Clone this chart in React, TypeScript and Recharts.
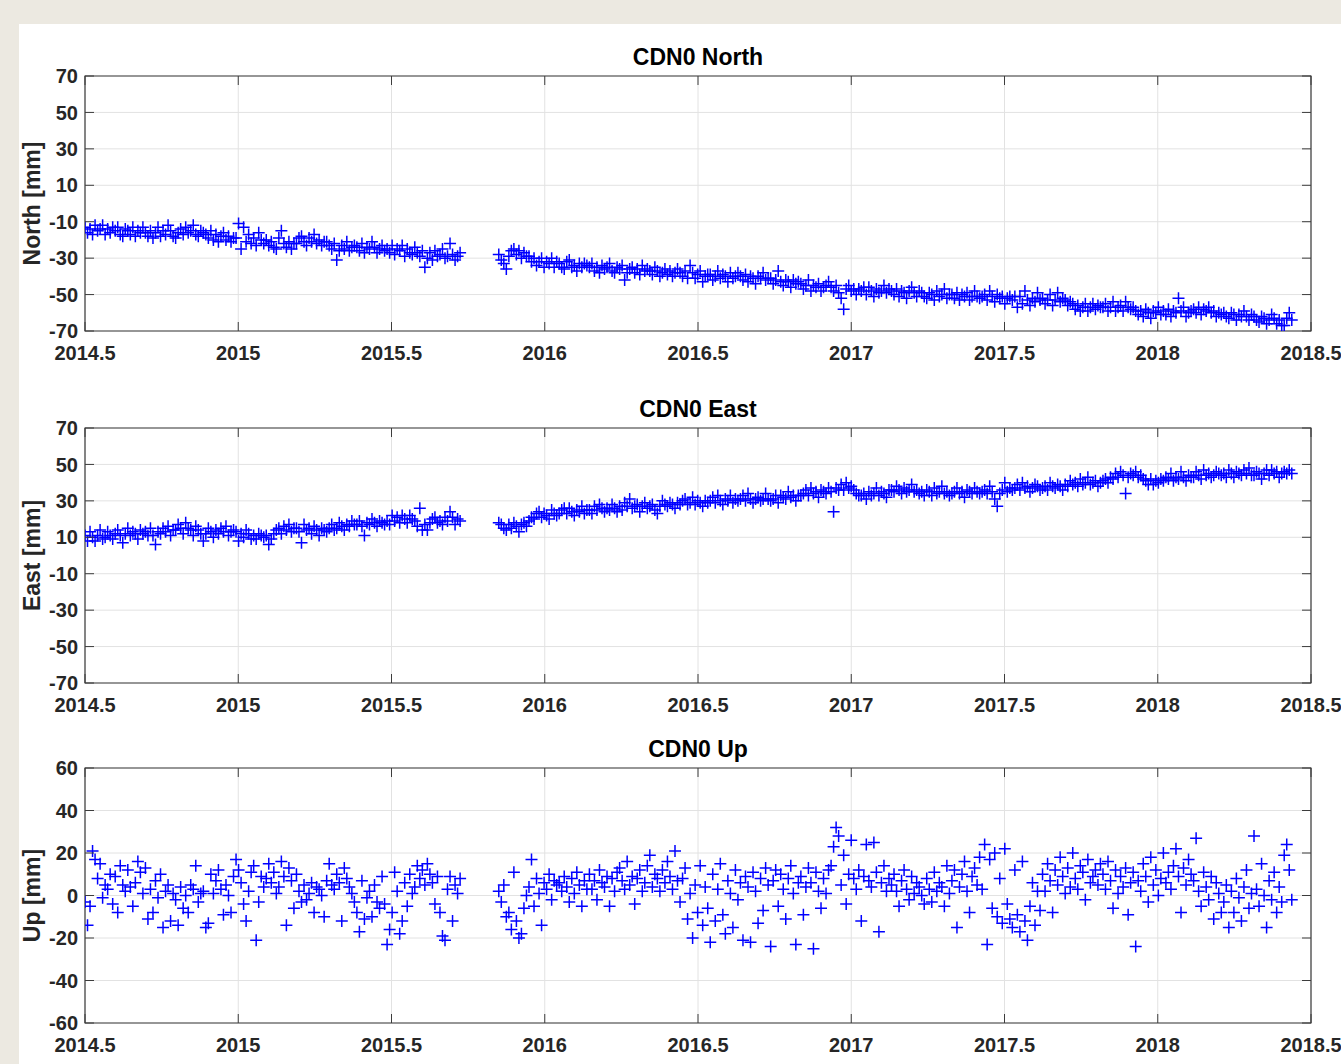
import { ScatterChart, Scatter, XAxis, YAxis, CartesianGrid, ReferenceArea } from 'recharts'

// ─── Style ───────────────────────────────────────────────────────────────
const PAGE_BG = '#ECE9E1'
const FONT = '"Liberation Sans", Arial, Helvetica, sans-serif'
const TEXT = '#262626'
const BOX = '#3c3c3c'
const GRID = '#e2e2e2'
const BLUE = '#0000FF'

// ─── Axes ────────────────────────────────────────────────────────────────
const X_TICKS = [2014.5, 2015, 2015.5, 2016, 2016.5, 2017, 2017.5, 2018, 2018.5]
const NE_TICKS = [70, 50, 30, 10, -10, -30, -50, -70]
const UP_TICKS = [60, 40, 20, 0, -20, -40, -60]

// ─── Data: solutions every 3 days, two segments with a gap late 2015 ─────
const STEP = 3 / 365.25
const SEG1_START = 2014.5
const SEG2_START = 2015.85

const northSeg1 = [
  -13, -16, -14, -17, -12, -15, -14, -12, -17, -14, -16, -13,
  -15, -13, -17, -18, -14, -15, -17, -13, -18, -15, -16, -13,
  -16, -18, -15, -19, -16, -13, -18, -15, -17, -12, -15, -18,
  -19, -16, -14, -17, -13, -16, -15, -12, -17, -18, -15, -16,
  -17, -19, -15, -20, -17, -21, -18, -16, -20, -18, -21, -19,
  -19, -11, -25, -13, -21, -17, -22, -19, -23, -16, -20, -22,
  -20, -23, -21, -24, -25, -19, -15, -22, -24, -21, -25, -22,
  -22, -19, -18, -21, -23, -19, -21, -17, -22, -20, -23, -21,
  -21, -23, -25, -22, -31, -26, -23, -25, -21, -26, -24, -23,
  -24, -26, -22, -27, -24, -25, -21, -24, -27, -25, -23, -26,
  -25, -27, -23, -28, -25, -26, -23, -29, -25, -27, -28, -24,
  -27, -29, -26, -35, -30, -27, -31, -26, -29, -28, -25, -30,
  -29, -22, -28, -31, -29, -27,
]
const northSeg2 = [
  -28, -31, -33, -36, -29, -26, -25, -28, -26, -30, -27, -29,
  -29, -32, -30, -34, -32, -30, -35, -32, -33, -30, -35, -32,
  -33, -35, -36, -32, -31, -35, -34, -37, -33, -35, -33, -34,
  -35, -33, -37, -35, -38, -34, -36, -35, -33, -37, -38, -35,
  -36, -34, -42, -38, -36, -35, -38, -36, -39, -34, -37, -36,
  -37, -39, -35, -37, -40, -38, -36, -39, -37, -40, -38, -36,
  -38, -40, -37, -41, -34, -38, -41, -39, -37, -43, -40, -39,
  -39, -42, -40, -37, -41, -39, -40, -43, -38, -41, -40, -38,
  -40, -42, -39, -43, -40, -41, -44, -40, -41, -38, -42, -41,
  -41, -44, -42, -37, -43, -45, -42, -43, -46, -42, -44, -43,
  -44, -47, -45, -42, -48, -45, -46, -44, -48, -46, -45, -43,
  -46, -48, -45, -49, -52, -58, -47, -45, -48, -47, -50, -47,
  -48, -46, -50, -46, -48, -51, -47, -49, -48, -45, -49, -47,
  -48, -50, -47, -51, -48, -49, -52, -48, -46, -49, -51, -48,
  -49, -51, -52, -49, -50, -53, -48, -51, -50, -47, -52, -50,
  -50, -52, -49, -53, -50, -51, -49, -53, -51, -48, -51, -52,
  -51, -50, -53, -48, -51, -54, -50, -52, -51, -55, -52, -51,
  -53, -51, -57, -51, -55, -48, -53, -56, -52, -54, -49, -53,
  -52, -55, -53, -50, -56, -53, -49, -54, -52, -53, -56, -54,
  -55, -58, -56, -59, -57, -55, -59, -57, -55, -58, -56, -57,
  -57, -55, -59, -57, -54, -59, -57, -56, -59, -54, -57, -58,
  -57, -59, -61, -59, -62, -58, -60, -63, -59, -60, -57, -61,
  -59, -61, -58, -62, -59, -60, -52, -59, -57, -62, -60, -59,
  -58, -60, -57, -61, -58, -59, -57, -60, -59, -62, -60, -61,
  -60, -62, -63, -60, -61, -64, -61, -62, -59, -62, -64, -61,
  -62, -64, -65, -62, -63, -66, -64, -61, -63, -66, -64, -67,
  -67, -63, -60, -64,
]

const eastSeg1 = [
  11, 8, 13, 10, 8, 11, 14, 9, 10, 13, 11, 9,
  12, 14, 11, 7, 12, 15, 11, 13, 12, 9, 14, 12,
  13, 11, 15, 11, 6, 13, 12, 15, 13, 16, 11, 14,
  14, 17, 15, 12, 18, 15, 14, 11, 16, 14, 12, 8,
  12, 15, 13, 10, 14, 12, 15, 13, 16, 11, 13, 14,
  13, 8, 12, 10, 14, 12, 9, 11, 9, 12, 11, 10,
  11, 6, 9, 12, 14, 15, 12, 16, 14, 17, 13, 15,
  15, 13, 7, 17, 14, 15, 12, 16, 14, 11, 15, 14,
  13, 15, 17, 14, 15, 18, 16, 14, 17, 16, 19, 17,
  17, 19, 16, 11, 18, 17, 20, 18, 16, 19, 18, 17,
  19, 17, 22, 19, 21, 18, 22, 20, 18, 22, 20, 19,
  16, 26, 14, 17, 14, 18, 20, 21, 18, 19, 17, 21,
  19, 24, 21, 17, 20, 19,
]
const eastSeg2 = [
  18, 17, 15, 14, 17, 15, 18, 16, 13, 17, 18, 16,
  19, 21, 20, 23, 24, 21, 23, 22, 20, 25, 23, 22,
  23, 25, 26, 23, 26, 24, 22, 25, 24, 27, 23, 25,
  25, 23, 27, 25, 28, 26, 24, 26, 25, 28, 26, 24,
  27, 25, 29, 27, 31, 26, 27, 28, 24, 27, 29, 26,
  27, 28, 25, 23, 27, 30, 28, 27, 29, 28, 26, 29,
  28, 30, 31, 28, 29, 32, 28, 30, 29, 27, 30, 29,
  30, 32, 29, 33, 30, 28, 31, 30, 33, 29, 31, 30,
  31, 33, 30, 34, 31, 29, 31, 32, 30, 31, 34, 31,
  30, 31, 33, 29, 33, 32, 31, 35, 32, 33, 30, 33,
  33, 34, 36, 33, 37, 34, 35, 32, 36, 35, 34, 37,
  35, 24, 37, 36, 39, 36, 40, 37, 38, 36, 34, 33,
  33, 34, 31, 35, 33, 34, 37, 33, 35, 34, 32, 36,
  36, 35, 38, 36, 34, 37, 35, 36, 39, 35, 36, 34,
  35, 33, 36, 35, 33, 37, 34, 35, 38, 34, 35, 33,
  34, 35, 37, 34, 35, 32, 36, 35, 34, 37, 35, 34,
  35, 36, 34, 38, 35, 31, 27, 34, 36, 40, 35, 37,
  36, 37, 39, 36, 40, 37, 38, 35, 37, 39, 38, 36,
  37, 38, 36, 40, 38, 37, 39, 38, 36, 39, 38, 41,
  39, 40, 38, 42, 39, 40, 43, 39, 40, 41, 38, 40,
  41, 42, 40, 43, 42, 45, 43, 46, 44, 34, 43, 45,
  44, 46, 43, 44, 42, 41, 39, 42, 39, 41, 40, 42,
  41, 43, 42, 45, 41, 43, 42, 46, 43, 41, 44, 43,
  43, 46, 44, 42, 47, 44, 45, 43, 44, 46, 45, 44,
  45, 43, 47, 45, 43, 46, 45, 44, 47, 45, 48, 44,
  44, 46, 45, 42, 45, 47, 44, 47, 45, 46, 43, 45,
  46, 45, 47, 45,
]

const upSeg1 = [
  -3, -14, -5, 21, 17, 8, 15, -1, 5, 3, 10, -4,
  9, -8, 14, 5, 2, 12, 4, -5, 6, 16, 11, 1,
  13, -11, 3, -8, 7, -1, 10, -15, 2, 5, -12, 1,
  -2, -14, 4, -6, 0, -8, 5, 3, 14, -3, 1, 2,
  -15, -13, 10, 1, 7, 12, 3, -9, 5, 0, -8, 9,
  17, 12, 6, -4, -12, 2, 11, 14, -21, -3, 9, 4,
  8, 15, 6, 11, 1, 4, 16, 9, -14, 13, 7, -6,
  10, 2, -3, 5, -2, 1, 6, -8, 4, 3, 0, -10,
  7, 15, 5, 3, 10, 6, -12, 13, 8, 4, 1, -3,
  -8, -17, 7, -11, -1, 2, -10, 5, -3, -6, 9, -4,
  -23, -16, -8, 11, 2, -18, -12, 6, -5, 10, 1, 4,
  14, 8, 12, 5, 15, 10, 6, -4, 9, -8, -19, -21,
  3, 9, -12, 5, 1, 8,
]
const upSeg2 = [
  2, -3, 5, -10, -8, -16, 11, -12, -20, -18, -6, 0,
  4, 17, -5, 8, 1, -14, 6, 3, 10, -2, 7, 5,
  6, 2, 9, 4, -3, 8, 1, 11, 5, -5, 7, 3,
  10, 3, 7, -2, 12, 6, 4, 9, -5, 8, 2, 11,
  13, 7, 3, 16, 5, 9, -4, 8, 12, 2, 6, 14,
  19, 4, 10, 8, 2, 12, 6, 16, 9, 3, 21, 7,
  -3, 8, 13, -11, 1, -20, 5, -8, 14, -14, 4, -6,
  -22, 10, -12, 3, 15, -9, -18, 7, 1, -15, 12, -2,
  6, -21, 9, 4, -22, 11, 2, -13, 8, -7, 13, 5,
  -24, 7, 12, -5, 10, 3, -11, 8, 14, 1, -23, 6,
  9, -9, 4, 13, 6, -25, 11, 2, -6, 8, 1, 12,
  14, 23, 32, 28, 5, 19, -4, 10, 26, 8, 3, 12,
  -12, 9, 24, 7, 4, 25, 11, -17, 6, 14, 2, 8,
  5, 10, 2, -5, 7, 12, 3, -2, 9, 1, 6, 4,
  0, -4, 8, 3, -3, 11, 2, 6, 4, -5, 14, 1,
  7, 12, -15, 4, 10, 16, 2, -8, 9, 13, 5, 18,
  3, 24, -23, 17, -6, 20, -10, 8, -13, 22, -4, -11,
  -15, 12, -9, -17, 16, -12, -21, -5, 6, -14, 2, -7,
  10, 2, 15, 7, -8, 12, 5, 18, 9, 1, 13, 4,
  20, 8, 3, 14, 11, -2, 17, 6, 9, 12, 5, 15,
  10, 3, 16, 7, -6, 12, 1, 9, 4, 13, -9, 6,
  11, -24, 7, 2, 15, 9, -3, 18, 5, 12, 0, 8,
  20, 6, 11, 3, 14, 22, 9, -8, 13, 5, 17, 10,
  7, 27, 2, -5, 11, 4, -2, 9, -11, 6, 1, -8,
  -3, 5, -15, 2, -8, 8, -1, -12, 4, 12, -6, 1,
  28, 3, -5, 15, 0, -15, 7, -2, 11, -8, 4, -3,
  19, 24, 12, -2,
]

function toPoints(seg1: number[], seg2: number[]) {
  return [
    ...seg1.map((v, i) => ({ t: SEG1_START + i * STEP, v })),
    ...seg2.map((v, i) => ({ t: SEG2_START + i * STEP, v })),
  ]
}

// ─── Geometry ────────────────────────────────────────────────────────────
const CHART_W = 1341
const CHART_H = 335
const PLOT_W = 1226
const PLOT_H = 255
const TICK_LEN = 9
const X_MARGIN = 15
const Y_MARGIN = 7

function PlusMark(props: any) {
  const { cx, cy } = props
  if (cx == null || cy == null) return null
  const r = 6
  return (
    <path
      d={`M${cx - r},${cy}H${cx + r}M${cx},${cy - r}V${cy + r}`}
      stroke={BLUE}
      strokeWidth={1.5}
      fill="none"
    />
  )
}

function XTick(props: any) {
  const { x, y, payload } = props
  const axisY = y - X_MARGIN
  return (
    <g>
      <line x1={x} y1={axisY} x2={x} y2={axisY - TICK_LEN} stroke={BOX} />
      <line x1={x} y1={axisY - PLOT_H} x2={x} y2={axisY - PLOT_H + TICK_LEN} stroke={BOX} />
      <text
        x={x}
        y={y}
        dy="0.72em"
        textAnchor="middle"
        fill={TEXT}
        fontSize={20}
        fontWeight="bold"
        fontFamily={FONT}
      >
        {payload.value}
      </text>
    </g>
  )
}

function YTick(props: any) {
  const { x, y, payload } = props
  const axisX = x + Y_MARGIN
  return (
    <g>
      <line x1={axisX} y1={y} x2={axisX + TICK_LEN} y2={y} stroke={BOX} />
      <line x1={axisX + PLOT_W} y1={y} x2={axisX + PLOT_W - TICK_LEN} y2={y} stroke={BOX} />
      <text
        x={x}
        y={y}
        dy="0.36em"
        textAnchor="end"
        fill={TEXT}
        fontSize={20}
        fontWeight="bold"
        fontFamily={FONT}
      >
        {payload.value}
      </text>
    </g>
  )
}

interface PanelProps {
  top: number
  title: string
  yLabel: string
  yTicks: number[]
  data: { t: number; v: number }[]
}

function Panel({ top, title, yLabel, yTicks, data }: PanelProps) {
  const yMin = yTicks[yTicks.length - 1]
  const yMax = yTicks[0]
  return (
    <div style={{ position: 'absolute', left: 0, top, width: CHART_W, height: CHART_H }}>
      <div
        style={{
          position: 'absolute',
          left: 85,
          width: PLOT_W,
          top: 7,
          textAlign: 'center',
          fontFamily: FONT,
          fontWeight: 'bold',
          fontSize: 23,
          lineHeight: '28px',
          color: '#000',
        }}
      >
        {title}
      </div>
      <ScatterChart
        width={CHART_W}
        height={CHART_H}
        margin={{ top: 40, right: 30, bottom: 10, left: 0 }}
      >
        <CartesianGrid stroke={GRID} strokeWidth={1} />
        <XAxis
          type="number"
          dataKey="t"
          domain={[2014.5, 2018.5]}
          ticks={X_TICKS}
          interval={0}
          allowDataOverflow
          height={30}
          axisLine={false}
          tickLine={false}
          tickSize={0}
          tickMargin={X_MARGIN}
          tick={(p: any) => <XTick {...p} />}
        />
        <YAxis
          type="number"
          dataKey="v"
          domain={[yMin, yMax]}
          ticks={yTicks}
          interval={0}
          allowDataOverflow
          width={85}
          axisLine={false}
          tickLine={false}
          tickSize={0}
          tickMargin={Y_MARGIN}
          tick={(p: any) => <YTick {...p} />}
          label={{
            value: yLabel,
            angle: -90,
            position: 'center',
            dx: -11,
            fill: TEXT,
            fontSize: 23,
            fontWeight: 'bold',
            fontFamily: FONT,
          }}
        />
        <Scatter data={data} shape={(p: any) => <PlusMark {...p} />} isAnimationActive={false} />
        <ReferenceArea
          x1={2014.5}
          x2={2018.5}
          y1={yMin}
          y2={yMax}
          fill="none"
          fillOpacity={0}
          stroke={BOX}
          strokeWidth={1.2}
          ifOverflow="visible"
        />
      </ScatterChart>
    </div>
  )
}

export default function App() {
  return (
    <div
      style={{
        position: 'fixed',
        left: 0,
        top: 0,
        width: 1341,
        height: 1064,
        background: PAGE_BG,
        overflow: 'hidden',
      }}
    >
      <div style={{ position: 'absolute', left: 19, top: 24, right: 0, bottom: 0, background: '#ffffff' }} />
      <Panel top={36} title="CDN0 North" yLabel="North [mm]" yTicks={NE_TICKS} data={toPoints(northSeg1, northSeg2)} />
      <Panel top={388} title="CDN0 East" yLabel="East [mm]" yTicks={NE_TICKS} data={toPoints(eastSeg1, eastSeg2)} />
      <Panel top={728} title="CDN0 Up" yLabel="Up [mm]" yTicks={UP_TICKS} data={toPoints(upSeg1, upSeg2)} />
    </div>
  )
}
